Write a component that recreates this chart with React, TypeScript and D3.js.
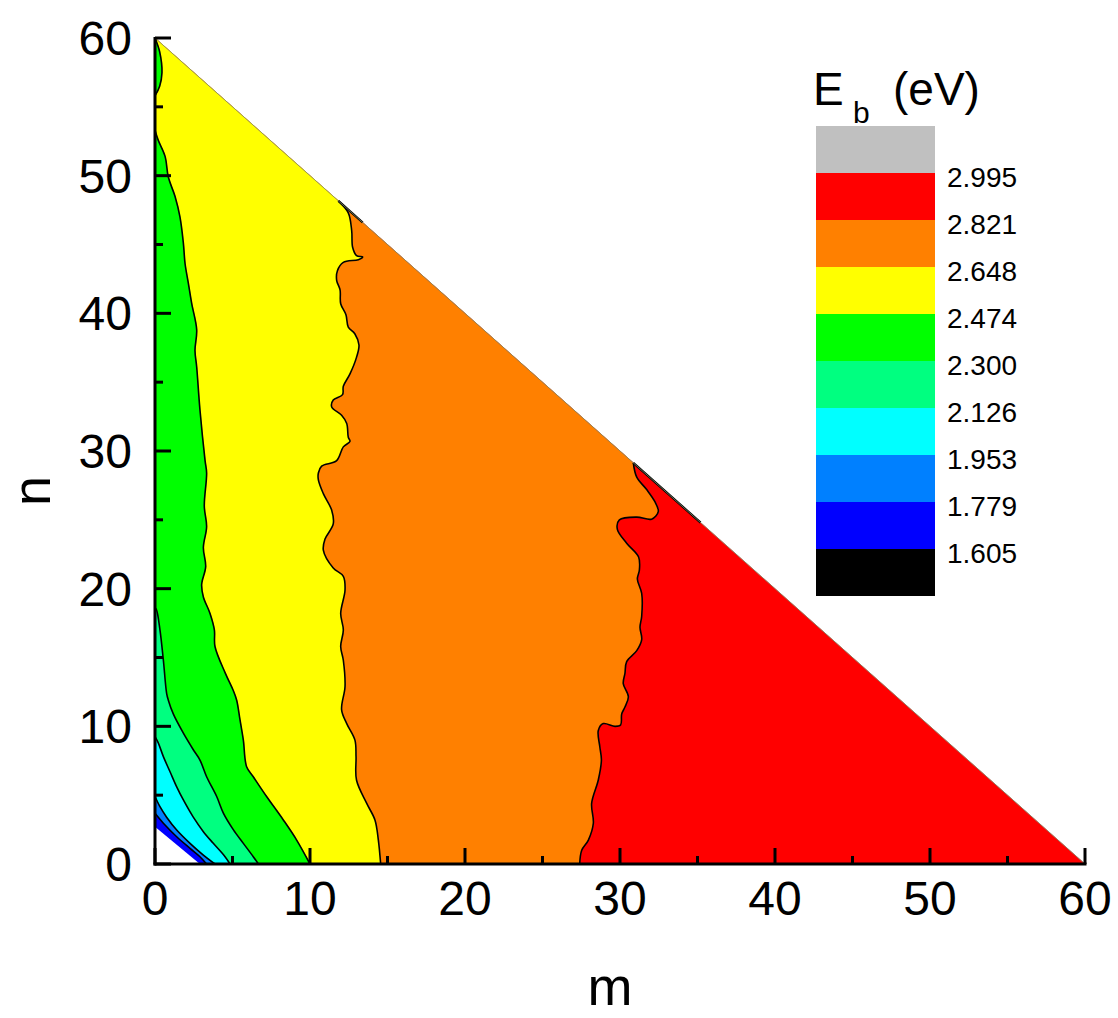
import React from "react";
import * as d3 from "d3";

// ---- data ----
const levels = [1.605, 1.779, 1.953, 2.126, 2.3, 2.474, 2.648, 2.821, 2.995];
const levelLabels = ["1.605", "1.779", "1.953", "2.126", "2.300", "2.474", "2.648", "2.821", "2.995"];
// colours from lowest band (below 1.605) to highest (above 2.995)
const bandColors = ["#000000", "#0000FF", "#0080FF", "#00FFFF", "#00FF80", "#00FF00", "#FFFF00", "#FF8000", "#FF0000", "#C0C0C0"];

const xTicks = [0, 10, 20, 30, 40, 50, 60];
const yTicks = [0, 10, 20, 30, 40, 50, 60];
const minorTicks = [5, 15, 25, 35, 45, 55];

// boundary lines [m, n] (from bottom axis upward)
const c2821 = [[27.4,0],[27.53,1.0],[27.96,1.74],[28.28,2.96],[28.17,4.4],[28.6,6.1],[28.8,7.55],[28.7,8.5],[28.6,9.7],[28.92,10.2],[29.68,10.0],[30.04,10.1],[30.11,10.9],[30.32,11.4],[30.54,12.15],[30.21,13.1],[30.32,13.85],[30.43,14.7],[31.08,15.5],[31.4,16.3],[31.29,17.2],[31.4,18.0],[31.4,19.65],[31.12,20.7],[31.25,21.35],[31.2,22.3],[30.43,23.3],[29.83,24.3],[29.96,25.0],[31.08,25.2],[32.04,25.05],[32.47,25.6],[32.26,26.3],[31.72,27.2],[31.08,28.1],[30.86,29.14]];
const c2648 = [[14.56,0],[14.41,1.74],[14.19,3.2],[13.66,4.4],[13.0,6.1],[12.97,7.8],[12.9,9.0],[12.37,10.2],[12.04,11.2],[12.26,12.9],[12.15,14.8],[11.98,15.8],[12.15,17.0],[11.98,18.2],[12.26,19.9],[12.15,20.9],[11.5,21.5],[10.86,22.8],[10.97,23.6],[11.5,24.7],[11.4,25.7],[10.86,26.9],[10.54,27.9],[10.54,28.4],[10.75,28.9],[11.72,29.3],[12.15,30.3],[12.58,30.7],[12.47,31.0],[12.37,32.0],[12.04,32.6],[11.4,33.2],[11.5,33.7],[12.1,34.1],[12.15,34.7],[12.58,35.6],[13.0,36.8],[13.16,37.7],[12.9,38.5],[12.47,39.0],[12.32,39.9],[11.98,40.7],[11.94,41.7],[11.72,42.4],[11.77,43.1],[12.15,43.7],[13.12,43.9],[13.4,44.1],[13.0,44.2],[12.75,44.8],[12.69,46.0],[12.47,47.3],[11.83,48.17]];
const c2474 = [[10.0,0],[9.14,1.74],[8.28,3.2],[7.2,4.9],[6.34,6.34],[5.91,7.07],[5.7,9.0],[5.48,10.5],[5.27,11.9],[5.05,12.6],[4.52,13.9],[3.87,15.8],[3.83,17.0],[3.55,18.2],[3.12,19.4],[3.01,20.3],[3.27,21.6],[3.12,23.0],[3.33,24.5],[3.18,26.0],[3.33,28.4],[3.23,29.3],[2.9,33.0],[2.69,36.1],[2.58,37.3],[2.69,38.8],[2.37,40.7],[2.15,42.2],[1.94,43.6],[1.83,45.1],[1.61,47.0],[1.29,48.5],[0.86,49.9],[0.65,51.4],[0.2,52.6],[0,53.3]];
const c2474top = [[0,55.8],[0.3,56.5],[0.45,57.5],[0.3,59],[0,60]];
const c2300 = [[6.67,0],[6.34,0.53],[5.7,1.5],[5.05,2.5],[4.41,3.7],[3.98,4.9],[3.33,6.34],[2.9,7.55],[2.47,8.3],[1.83,9.5],[1.18,10.9],[0.86,11.9],[0.75,12.4],[0.54,14.8],[0.32,17.0],[0.1,18.45],[0,18.6]];
const c2126 = [[4.84,0],[4.52,0.53],[3.76,1.5],[3.12,2.35],[2.47,3.4],[1.83,4.65],[1.4,5.6],[0.97,6.7],[0.54,7.8],[0.21,8.8],[0,9.25]];
const c1953 = [[3.87,0],[3.12,0.65],[2.26,1.5],[1.4,2.47],[0.75,3.4],[0.32,4.16],[0,4.9]];
const c1779 = [[3.33,0],[2.9,0.53],[2.26,1.14],[1.4,1.98],[0.54,2.96],[0,3.68]];
const noData = [[0,0],[2.9,0],[0,2.7]];
const edgeSegments = [[[11.83,48.17],[13.4,46.6]], [[30.86,29.14],[35.2,24.8]]];
const triangle = [[0,0],[60,0],[0,60]];

const W = 1118, H = 1018;
const x = d3.scaleLinear().domain([0, 60]).range([155, 1085]);
const y = d3.scaleLinear().domain([0, 60]).range([864, 38]);

const curveLine = d3.line<number[]>().x(d => x(d[0])).y(d => y(d[1])).curve(d3.curveCatmullRom.alpha(0.5));
const straight = d3.line<number[]>().x(d => x(d[0])).y(d => y(d[1]));

// region to the left of a boundary
function leftRegion(pts: number[][], viaTop: boolean) {
  const base = curveLine(pts) as string;
  const tail = viaTop ? `L${x(0)},${y(60)}L${x(0)},${y(0)}Z` : `L${x(0)},${y(0)}Z`;
  return base + tail;
}

const FONT = "'Liberation Sans', Arial, Helvetica, sans-serif";

export default function App() {
  const regions = [
    { d: straight(triangle) + "Z", fill: bandColors[8] },
    { d: leftRegion(c2821, true), fill: bandColors[7] },
    { d: leftRegion(c2648, true), fill: bandColors[6] },
    { d: leftRegion(c2474, false), fill: bandColors[5] },
    { d: (curveLine(c2474top) as string) + "Z", fill: bandColors[5] },
    { d: leftRegion(c2300, false), fill: bandColors[4] },
    { d: leftRegion(c2126, false), fill: bandColors[3] },
    { d: leftRegion(c1953, false), fill: bandColors[2] },
    { d: leftRegion(c1779, false), fill: bandColors[1] },
  ];
  const lines = [c2821, c2648, c2474, c2474top, c2300, c2126, c1953, c1779];

  const legX = 816, legW = 119, legTop = 126, legH = 47;
  const nb = bandColors.length;

  return (
    <svg width={W} height={H} style={{ position: "absolute", left: 0, top: 0, background: "#fff" }} fontFamily={FONT}>
      {regions.map((r, i) => (
        <path key={i} d={r.d} fill={r.fill} stroke={r.fill} strokeWidth={0.5} />
      ))}
      <path d={straight(noData) + "Z"} fill="#fff" />
      {lines.map((l, i) => (
        <path key={i} d={curveLine(l) as string} fill="none" stroke="#000" strokeWidth={1.6} />
      ))}
      {edgeSegments.map((s, i) => (
        <path key={i} d={straight(s) as string} stroke="#000" strokeWidth={2.2} fill="none" />
      ))}
      <line x1={x(0)} y1={y(60)} x2={x(60)} y2={y(0)} stroke="#7a8a6a" strokeWidth={0.8} />

      {/* axes */}
      <line x1={x(0)} y1={y(60) - 1} x2={x(0)} y2={y(0) + 1.5} stroke="#000" strokeWidth={3} />
      <line x1={x(0) - 1.5} y1={y(0)} x2={x(60) + 1.5} y2={y(0)} stroke="#000" strokeWidth={3} />
      {xTicks.map(t => (
        <line key={"xt" + t} x1={x(t)} x2={x(t)} y1={y(0)} y2={y(0) - 16} stroke="#000" strokeWidth={3} />
      ))}
      {minorTicks.map(t => (
        <line key={"xm" + t} x1={x(t)} x2={x(t)} y1={y(0)} y2={y(0) - 8} stroke="#000" strokeWidth={3} />
      ))}
      {yTicks.map(t => (
        <line key={"yt" + t} x1={x(0)} x2={x(0) + 16} y1={y(t)} y2={y(t)} stroke="#000" strokeWidth={3} />
      ))}
      {minorTicks.map(t => (
        <line key={"ym" + t} x1={x(0)} x2={x(0) + 8} y1={y(t)} y2={y(t)} stroke="#000" strokeWidth={3} />
      ))}
      {xTicks.map(t => (
        <text key={"xl" + t} x={x(t)} y={915} textAnchor="middle" fontSize={48}>{t}</text>
      ))}
      {yTicks.map(t => (
        <text key={"yl" + t} x={132} y={y(t) + 17} textAnchor="end" fontSize={48}>{t}</text>
      ))}
      <text x={610} y={1005} textAnchor="middle" fontSize={54}>m</text>
      <text transform={`translate(50,491) rotate(-90)`} textAnchor="middle" fontSize={54}>n</text>

      {/* legend */}
      {bandColors.map((c, i) => (
        <rect key={"lb" + i} x={legX} y={legTop + (nb - 1 - i) * legH} width={legW} height={legH} fill={c} />
      ))}
      {levelLabels.map((l, i) => (
        <text key={"ll" + i} x={947} y={legTop + (nb - 1 - i) * legH + 14} fontSize={28}>{l}</text>
      ))}
      <text x={813} y={105} fontSize={46}>E</text>
      <text x={853} y={123} fontSize={30}>b</text>
      <text x={893} y={105} fontSize={46}>(eV)</text>
    </svg>
  );
}
